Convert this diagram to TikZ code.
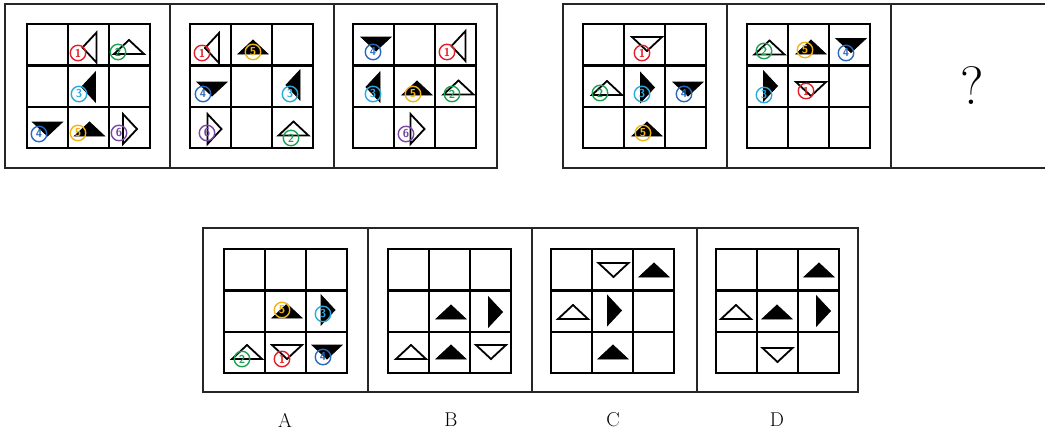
\documentclass[tikz,border=0pt]{standalone}
\usepackage{fontspec}
\definecolor{cR}{RGB}{228,30,40}
\definecolor{cG}{RGB}{30,160,80}
\definecolor{cC}{RGB}{40,170,225}
\definecolor{cB}{RGB}{40,105,190}
\definecolor{cY}{RGB}{240,180,20}
\definecolor{cP}{RGB}{120,70,165}
\newcommand\pathU{(0,-7)--(15,7)--(-15,7)--cycle}
\newcommand\pathD{(0,7)--(15,-7)--(-15,-7)--cycle}
\newcommand\pathL{(-7,0)--(7,-15)--(7,15)--cycle}
\newcommand\pathR{(7,0)--(-7,-15)--(-7,15)--cycle}
\newcommand\triF[3]{\draw[filltri,shift={(#1,#2)}] \csname path#3\endcsname;}
\newcommand\triH[3]{\draw[hollowtri,shift={(#1,#2)}] \csname path#3\endcsname;}
\newcommand\gridat[2]{%
  \draw[gridl,shift={(#1,#2)}] (0,0) rectangle (123,124)
    (41,0)--(41,124) (82,0)--(82,124) (0,41.3)--(123,41.3) (0,82.7)--(123,82.7);}
\tikzset{
  box/.style={draw=black!85,line width=2pt},
  gridl/.style={draw=black,line width=2.4pt},
  filltri/.style={fill=black,draw=black,line width=0.8pt,line join=miter},
  hollowtri/.style={fill=white,draw=black,line width=1.8pt,line join=miter},
  circ/.style={circle,minimum size=15.5pt,inner sep=0pt,line width=1.4pt,
    font=\fontsize{11.5}{11.5}\selectfont\sffamily\bfseries},
  lab/.style={font=\fontsize{20}{20}\selectfont},
}
\begin{document}
\begin{tikzpicture}[x=1pt,y=-1pt]
\useasboundingbox (0,0) rectangle (1045,432);
% outer boxes
\draw[box] (5,4) rectangle (497,168) (170,4)--(170,168) (334,4)--(334,168);
\draw[box] (1060,4)--(563,4)--(563,168)--(1060,168) (727,4)--(727,168) (891,4)--(891,168);
\draw[box] (203,228) rectangle (858,392) (368,228)--(368,392) (532,228)--(532,392) (697,228)--(697,392);
% grids
\gridat{27}{24}\gridat{190}{24}\gridat{353}{24}\gridat{583}{24}\gridat{747}{24}
\gridat{224}{249}\gridat{388}{249}\gridat{551}{249}\gridat{716}{249}
% panel 1
\triH{89.5}{47.5}{L}\node[circ,draw=cR,text=cR] (a1) at (78,53) {1};
\triH{129}{47}{U}\node[circ,draw=cG,text=cG] (a2) at (118,52) {2};
\triF{88.5}{87}{L}\node[circ,draw=cC,text=cC] (a3) at (79,94) {3};
\triF{47.5}{129}{D}\node[circ,draw=cB,text=cB] (a4) at (39,134) {4};
\triF{89.5}{129}{U}\node[circ,draw=cY,text=cY] (a5) at (78,133) {5};
\triH{130}{129}{R}\node[circ,draw=cP,text=cP] (a6) at (119,133) {6};
% panel 2
\triH{212}{48}{L}\node[circ,draw=cR,text=cR] (b1) at (202,53) {1};
\triF{253}{47}{U}\node[circ,draw=cY,text=cY] (b5) at (253,52) {5};
\triF{212}{89}{D}\node[circ,draw=cB,text=cB] (b4) at (203,94) {4};
\triF{293}{85}{L}\node[circ,draw=cC,text=cC] (b3) at (290,94) {3};
\triH{214.5}{129}{R}\node[circ,draw=cP,text=cP] (b6) at (207,133) {6};
\triH{293.5}{128.5}{U}\node[circ,draw=cG,text=cG] (b2) at (291,138) {2};
% panel 3
\triF{376}{44}{D}\node[circ,draw=cB,text=cB] (c4) at (373,52) {4};
\triH{458.5}{46}{L}\node[circ,draw=cR,text=cR] (c1) at (447,52) {1};
\triF{373}{87}{L}\node[circ,draw=cC,text=cC] (c3) at (373,94) {3};
\triF{417}{88}{U}\node[circ,draw=cY,text=cY] (c5) at (413,94) {5};
\triH{458.5}{87.5}{U}\node[circ,draw=cG,text=cG] (c2) at (452,94) {2};
\triH{417.5}{129}{R}\node[circ,draw=cP,text=cP] (c6) at (406,134) {6};
% panel 4
\triH{647}{44}{D}\node[circ,draw=cR,text=cR] (d1) at (642,53) {1};
\triH{607}{88}{U}\node[circ,draw=cG,text=cG] (d2) at (600,93) {2};
\triF{647.5}{87.5}{R}\node[circ,draw=cC,text=cC] (d3) at (642,94) {3};
\triF{688}{89}{D}\node[circ,draw=cB,text=cB] (d4) at (684,94) {4};
\triF{647}{129}{U}\node[circ,draw=cY,text=cY] (d5) at (643,133) {5};
% panel 5
\triH{769.5}{47.5}{U}\node[circ,draw=cG,text=cG] (e2) at (764,51) {2};
\triF{811}{47}{U}\node[circ,draw=cY,text=cY] (e5) at (805,50) {5};
\triF{851}{45.5}{D}\node[circ,draw=cB,text=cB] (e4) at (846,53) {4};
\triF{770.5}{86}{R}\node[circ,draw=cC,text=cC] (e3) at (764,95) {3};
\triH{811}{89}{D}\node[circ,draw=cR,text=cR] (e1) at (806,91) {1};
% question mark
\node[font=\fontsize{54}{54}\selectfont,inner sep=0pt] (q) at (972,86) {?};
% option A
\triF{287}{311}{U}\node[circ,draw=cY,text=cY] (f5) at (282,310) {5};
\triF{328}{310}{R}\node[circ,draw=cC,text=cC] (f3) at (323,314) {3};
\triH{247}{352}{U}\node[circ,draw=cG,text=cG] (f2) at (242,359) {2};
\triH{287}{352}{D}\node[circ,draw=cR,text=cR] (f1) at (282,359) {1};
\triF{327}{352}{D}\node[circ,draw=cB,text=cB] (f4) at (323,357) {4};
% option B
\triF{451}{312}{U}\triF{495.5}{312}{R}\triH{411}{352}{U}\triF{451}{352}{U}\triH{491}{352}{D}
% option C
\triH{613.5}{270}{D}\triF{654}{270}{U}\triH{573}{312}{U}\triF{614.5}{310.5}{R}\triF{613}{352}{U}
% option D
\triF{819}{270}{U}\triH{736}{312}{U}\triF{777}{312}{U}\triF{823.5}{311}{R}\triH{777.5}{355}{D}
% labels
\node[lab] (lA) at (285,420) {A};
\node[lab] (lB) at (451,420) {B};
\node[lab] (lC) at (613,420) {C};
\node[lab] (lD) at (777,420) {D};
\end{tikzpicture}
\end{document}
